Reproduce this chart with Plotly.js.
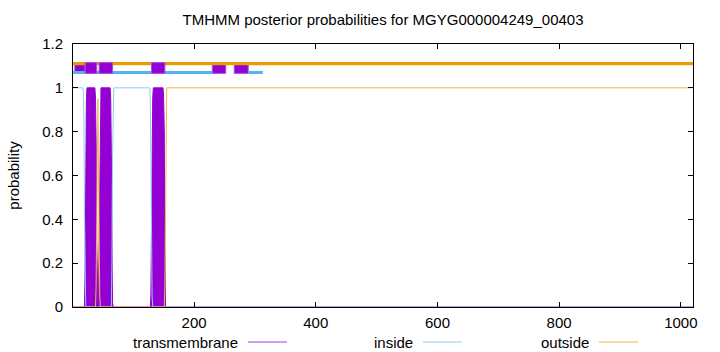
<!DOCTYPE html>
<html>
<head>
<meta charset="utf-8">
<script src="https://cdn.plot.ly/plotly-3.0.1.min.js"></script>
<style>html,body{margin:0;padding:0;background:#fff;}#plot{width:720px;height:352px;}</style>
</head>
<body>
<div id="plot"></div>
<script>
// ---- data ----
const seqLength = 1020;

// transmembrane posterior probability (key points)
const tmPos  = [1, 20, 21, 22, 23, 24, 37, 38, 39, 40, 41, 42, 43, 44, 45, 46, 47, 62, 63, 64, 65, 66, 67, 128, 129, 130, 131, 132, 133, 149, 150, 151, 152, 153, 1020];
const tmProb = [0, 0, 0.2, 0.7, 0.95, 1, 1, 0.95, 0.75, 0.3, 0.05, 0.02, 0.05, 0.3, 0.75, 0.95, 1, 1, 0.95, 0.7, 0.2, 0.02, 0, 0, 0.05, 0.5, 0.85, 0.95, 1, 1, 0.95, 0.8, 0.3, 0, 0];

// inside posterior probability
const insidePos  = [1, 17, 18, 19, 20, 21, 22, 64, 65, 66, 67, 68, 127, 128, 129, 130, 131, 132, 1020];
const insideProb = [1, 1, 0.98, 0.85, 0.4, 0.05, 0, 0, 0.2, 0.7, 0.95, 1, 1, 0.95, 0.7, 0.3, 0.05, 0, 0];

// outside posterior probability
const outsidePos  = [1, 38, 39, 40, 41, 42, 43, 44, 45, 46, 151, 152, 153, 154, 155, 1020];
const outsideProb = [0, 0, 0.1, 0.4, 0.7, 0.95, 0.6, 0.25, 0.05, 0, 0, 0.1, 0.6, 0.95, 1, 1];

// top topology track
const topOutsideStart = [1];
const topOutsideEnd   = [1020];
const topInsideStart  = [1, 289];
const topInsideEnd    = [230, 313];
const topTmLowStart   = [4, 230, 266];   // boxes lying under the lines
const topTmLowEnd     = [21, 252, 289];
const topTmHighStart  = [21, 44, 130];   // boxes drawn over the lines
const topTmHighEnd    = [40, 66, 152];
const levelOutside = 1.11;
const levelInside  = 1.07;
const boxLow  = 1.066;
const boxHigh = 1.115;

const xTicks = [200, 400, 600, 800, 1000];
const yTicks = [0, 0.2, 0.4, 0.6, 0.8, 1, 1.2];

// ---- styles ----
const cTM = '#9400D3', cIn = '#56B4E9', cOut = '#E69F00';
const FONT = '"Liberation Sans", Arial, Helvetica, sans-serif';

const traces = [];
traces.push({x: tmPos, y: tmProb, type: 'scatter', mode: 'lines', fill: 'tozeroy',
  fillcolor: cTM, line: {color: cTM, width: 1}, hoverinfo: 'skip', showlegend: false});
traces.push({x: insidePos, y: insideProb, type: 'scatter', mode: 'lines',
  line: {color: '#8fcdf0', width: 1}, hoverinfo: 'skip', showlegend: false});
traces.push({x: outsidePos, y: outsideProb, type: 'scatter', mode: 'lines',
  line: {color: '#f2b743', width: 1}, hoverinfo: 'skip', showlegend: false});

function box(s, e) {
  return {x: [s, e, e, s, s], y: [boxLow, boxLow, boxHigh, boxHigh, boxLow], type: 'scatter',
    mode: 'lines', fill: 'toself', fillcolor: cTM, line: {color: '#a94be0', width: 1},
    hoverinfo: 'skip', showlegend: false};
}
topTmLowStart.forEach((s, i) => traces.push(box(s, topTmLowEnd[i])));
topOutsideStart.forEach((s, i) => traces.push({x: [s, topOutsideEnd[i]], y: [levelOutside, levelOutside],
  type: 'scatter', mode: 'lines', line: {color: cOut, width: 3.3}, hoverinfo: 'skip', showlegend: false}));
topInsideStart.forEach((s, i) => traces.push({x: [s, topInsideEnd[i]], y: [levelInside, levelInside],
  type: 'scatter', mode: 'lines', line: {color: cIn, width: 3}, hoverinfo: 'skip', showlegend: false}));
topTmHighStart.forEach((s, i) => traces.push(box(s, topTmHighEnd[i])));

// legend (gnuplot style: text then sample line)
const L = 73, W = 620, T = 44, H = 263;
const px = v => (v - L) / W;
const py = v => (T + H - v) / H;
const legendItems = [
  {text: 'transmembrane', textEnd: 239, lineStart: 248, lineEnd: 287, color: '#a040d0'},
  {text: 'inside', textEnd: 414, lineStart: 423, lineEnd: 462, color: '#8fcdf0'},
  {text: 'outside', textEnd: 590, lineStart: 599, lineEnd: 638, color: '#f2b743'}
];
const annotations = legendItems.map(it => ({
  text: it.text, xref: 'paper', yref: 'paper', x: px(it.textEnd), y: py(342),
  xanchor: 'right', yanchor: 'middle', showarrow: false, borderpad: 0,
  font: {family: FONT, size: 15, color: '#000'}
}));
const shapes = legendItems.map(it => ({
  type: 'line', xref: 'paper', yref: 'paper', x0: px(it.lineStart), x1: px(it.lineEnd),
  y0: py(342), y1: py(342), line: {color: it.color, width: 1}
}));

const axisCommon = {
  ticks: 'inside', ticklen: 5, tickcolor: '#000', tickwidth: 1,
  showline: true, mirror: 'ticks', linecolor: '#000', linewidth: 1,
  showgrid: false, zeroline: false,
  tickfont: {family: FONT, size: 15, color: '#000'}
};

const layout = {
  width: 720, height: 352,
  margin: {l: 73, r: 27, t: 44, b: 45, pad: 0},
  paper_bgcolor: '#fff', plot_bgcolor: '#fff',
  showlegend: false,
  title: {text: 'TMHMM posterior probabilities for MGYG000004249_00403',
    font: {family: FONT, size: 15, color: '#000'},
    x: 0.5, xref: 'paper', xanchor: 'center', y: 1 - 20 / 352, yref: 'container', yanchor: 'middle'},
  xaxis: Object.assign({}, axisCommon, {range: [1, seqLength], tickmode: 'array', tickvals: xTicks,
    ticktext: xTicks.map(String), ticklabelstandoff: 2}),
  yaxis: Object.assign({}, axisCommon, {range: [0, 1.2], tickmode: 'array', tickvals: yTicks,
    ticktext: yTicks.map(String), ticklabelstandoff: 6,
    title: {text: 'probability', font: {family: FONT, size: 15, color: '#000'}, standoff: 18}}),
  annotations: annotations,
  shapes: shapes
};

Plotly.newPlot('plot', traces, layout, {staticPlot: true, displayModeBar: false});
</script>
</body>
</html>
